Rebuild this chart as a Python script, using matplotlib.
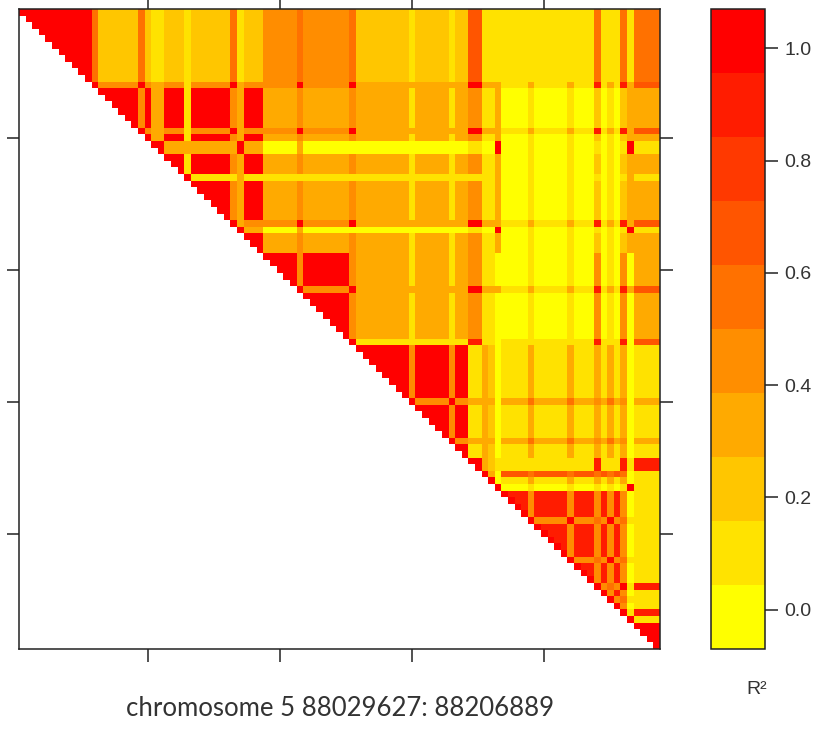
import numpy as np
import matplotlib
matplotlib.use("Agg")
import matplotlib.pyplot as plt
from matplotlib.colors import ListedColormap, BoundaryNorm

# LD classes of the SNPs from left to right, as (class, run length)
snp_runs = [
    ("A", 11), ("P", 1), ("B", 6), ("P", 1), ("B", 1), ("Y", 2), ("B", 3),
    ("V", 1), ("B", 6), ("P", 1), ("Y", 1), ("B", 3),
    ("C", 5), ("P", 1), ("C", 7), ("R", 1),
    ("D", 8), ("W", 1), ("D", 5), ("W", 1), ("D", 2),
    ("E", 2), ("T", 1), ("S", 1), ("Y", 1),
    ("F", 4), ("L", 1), ("F", 5), ("L", 1), ("F", 3), ("Q", 1), ("F", 1),
    ("L", 1), ("F", 1), ("Q", 1), ("Y", 1),
    ("G", 4),
]

classes = ["A", "B", "P", "Y", "V", "C", "R", "D",
           "W", "E", "T", "S", "F", "L", "Q", "G"]

# r^2 between classes (upper triangle, row class vs column class)
r2_between = [
    [1.00, 0.22, 0.58, 0.08, 0.12, 0.45, 0.60, 0.22, 0.10, 0.65, 0.12, 0.12, 0.13, 0.15, 0.55, 0.50],
    [1.00, 0.40, 0.38, 0.12, 0.36, 0.40, 0.33, 0.06, 0.40, 0.10, 0.10, 0.04, 0.15, 0.25, 0.35],
    [1.00, 0.30, 0.10, 0.45, 1.00, 0.30, 0.35, 1.00, 0.30, 0.30, 0.15, 0.30, 0.95, 0.70],
    [1.00, 0.30, 0.03, 0.03, 0.03, 0.03, 0.05, 0.03, 0.03, 0.02, 0.05, 0.05, 0.05],
    [1.00, 0.05, 0.05, 0.05, 0.05, 0.05, 0.05, 0.05, 0.03, 0.05, 0.05, 0.05],
    [1.00, 0.45, 0.37, 0.05, 0.45, 0.10, 0.10, 0.03, 0.10, 0.40, 0.33],
    [1.00, 0.05, 0.05, 0.90, 0.10, 0.05, 0.05, 0.10, 0.90, 0.70],
    [1.00, 0.45, 0.15, 0.35, 0.20, 0.12, 0.35, 0.30, 0.15],
    [1.00, 0.30, 0.35, 0.30, 0.35, 0.50, 0.40, 0.35],
    [1.00, 0.30, 0.20, 0.05, 0.15, 0.95, 0.95],
    [1.00, 0.30, 0.62, 0.50, 0.60, 0.05],
    [1.00, 0.15, 0.30, 0.30, 0.10],
    [0.95, 0.45, 0.45, 0.05],
    [1.00, 0.50, 0.10],
    [1.00, 0.85],
    [1.00],
]

colorbar_ticks = [0.0, 0.2, 0.4, 0.6, 0.8, 1.0]
xlabel = "chromosome 5 88029627: 88206889"

# ---- build the SNP x SNP matrix ----
k = len(classes)
tab = np.full((k, k), np.nan)
for i, row in enumerate(r2_between):
    tab[i, i:] = row
    tab[i:, i] = row
snp_cls = []
for c, n in snp_runs:
    snp_cls += [classes.index(c)] * n
snp_cls = np.array(snp_cls)
n_snp = len(snp_cls)

ld = tab[snp_cls[:, None], snp_cls[None, :]]
ld[np.tril_indices(n_snp, -1)] = np.nan
np.fill_diagonal(ld, 1.0)

# ten colour bands from yellow to red, range padded like lattice does
n_band = 10
lo, hi = -0.07, 1.07
bounds = np.linspace(lo, hi, n_band + 1)
g = np.linspace(1, 0, n_band)
cmap = ListedColormap([(1.0, gv, 0.0) for gv in g])
cmap.set_bad("white")
norm = BoundaryNorm(bounds, cmap.N)

fig = plt.figure(figsize=(8.29, 7.31), dpi=100)
ax = fig.add_axes([19 / 829, 82 / 731, 641 / 829, 640 / 731])
im = ax.imshow(np.ma.masked_invalid(ld), cmap=cmap, norm=norm,
               interpolation="nearest", aspect="auto",
               extent=(0.5, n_snp + 0.5, n_snp + 0.5, 0.5))
ax.set_xlim(0.5, n_snp + 0.5)
ax.set_ylim(n_snp + 0.5, 0.5)
ax.set_xticks([20, 40, 60, 80])
ax.set_yticks([20, 40, 60, 80])
ax.tick_params(direction="out", length=9, width=1.1, color="#222222",
               top=True, right=True, labelbottom=False, labelleft=False)
for sp in ax.spines.values():
    sp.set_linewidth(1.1)
    sp.set_color("#222222")

# colour key
cax = fig.add_axes([711 / 829, 82 / 731, 54 / 829, 640 / 731])
cb = fig.colorbar(im, cax=cax, ticks=colorbar_ticks, boundaries=bounds)
cb.minorticks_off()
cb.outline.set_linewidth(1.1)
cb.outline.set_edgecolor("#222222")
cax.tick_params(direction="out", length=9, width=1.1, color="#222222",
                labelsize=14, labelcolor="#333333", pad=5)
cax.set_yticklabels([f"{t:.1f}" for t in colorbar_ticks],
                    family="Liberation Sans")

fig.text(757 / 829, 41 / 731, "R\u00b2", ha="center", va="center",
         fontsize=14, color="#333333", family="Liberation Sans")
fig.text(340 / 829, 23 / 731, xlabel, ha="center", va="center",
         fontsize=18.5, color="#333333", family="Lato")

fig.savefig("out.png", dpi=100)
